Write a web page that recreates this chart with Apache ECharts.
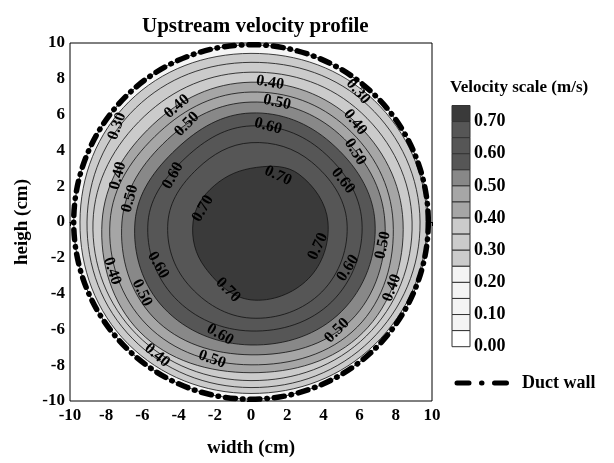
<!DOCTYPE html>
<html>
<head>
<meta charset="utf-8">
<script src="https://cdn.jsdelivr.net/npm/echarts@6/dist/echarts.min.js"></script>
<style>
html,body{margin:0;padding:0;background:#fff;}
#chart{width:614px;height:463px;}
</style>
</head>
<body>
<div id="chart"></div>
<script>
// ---- data ----
const xTicks = [-10, -8, -6, -4, -2, 0, 2, 4, 6, 8, 10];
const yTicks = [-10, -8, -6, -4, -2, 0, 2, 4, 6, 8, 10];
const wallRadius = 9.85;                       // duct wall radius (cm)

const contourLevels = [0.25, 0.30, 0.35, 0.40, 0.45, 0.50, 0.55, 0.60, 0.65, 0.70];
// contour boundary points (cm), going right, up-right, up, up-left, left, down-left, down, down-right
const c025 = [[9.72,0],[6.80,6.80],[0,9.42],[-6.73,6.73],[-9.45,0],[-6.80,-6.80],[0,-9.58],[6.84,-6.84]];
const c030 = [[9.34,0],[6.49,6.49],[0,8.92],[-6.37,6.37],[-9.06,0],[-6.53,-6.53],[0,-9.25],[6.61,-6.61]];
const c035 = [[8.90,0],[6.10,6.10],[0,8.37],[-5.90,5.90],[-8.73,0],[-6.30,-6.30],[0,-8.86],[6.37,-6.37]];
const c040 = [[8.40,0],[5.67,5.67],[0,7.81],[-5.43,5.43],[-8.23,0],[-6.14,-6.14],[0,-8.42],[6.18,-6.18]];
const c045 = [[7.85,0],[5.28,5.28],[0,7.26],[-5.04,5.04],[-7.79,0],[-5.75,-5.75],[0,-7.98],[5.87,-5.87]];
const c050 = [[7.40,0],[4.89,4.89],[0,6.70],[-4.61,4.61],[-7.13,0],[-5.36,-5.36],[0,-7.42],[5.51,-5.51]];
const c055 = [[6.85,0],[4.42,4.42],[0,6.09],[-4.10,4.10],[-6.41,0],[-4.81,-4.81],[0,-6.87],[5.00,-5.00]];
const c060 = [[6.13,0],[3.95,3.95],[0,5.37],[-3.60,3.60],[-5.69,0],[-4.22,-4.22],[0,-6.09],[4.46,-4.46]];
const c065 = [[5.30,0],[3.35,3.35],[0,4.43],[-2.97,2.97],[-4.59,0],[-3.48,-3.48],[0,-5.37],[3.91,-3.91]];
const c070 = [[4.25,0],[2.66,2.66],[0.3,3.05],[-2.03,2.03],[-3.20,0],[-2.54,-2.54],[0,-4.35],[3.17,-3.17]];
const contours = [c025, c030, c035, c040, c045, c050, c055, c060, c065, c070];

// contour labels: [x, y, text, angle in degrees]
const contourLabels = [
  [-4.09, 6.45, '0.40', 40], [-3.54, 5.46, '0.50', 45], [-7.40, 5.35, '0.30', 70],
  [-7.35, 2.58, '0.40', 75], [-6.69, 1.30, '0.50', 75], [-4.31, 2.58, '0.60', 62],
  [-2.65, 0.75, '0.70', 60], [1.05, 7.78, '0.40', -10], [1.44, 6.68, '0.50', -12],
  [0.94, 5.35, '0.60', -15], [1.49, 2.58, '0.70', -25], [5.91, 7.29, '0.30', -50],
  [5.75, 5.57, '0.40', -52], [5.75, 3.91, '0.50', -58], [5.08, 2.30, '0.60', -52],
  [3.70, -1.36, '0.70', 65], [5.36, -2.58, '0.60', 58], [7.29, -1.30, '0.50', 78],
  [7.79, -3.68, '0.40', 70], [4.75, -6.07, '0.50', 45], [-7.68, -2.74, '0.40', -72],
  [-6.02, -3.96, '0.50', -65], [-5.14, -2.41, '0.60', -60], [-1.71, -6.29, '0.60', -30],
  [-2.15, -7.67, '0.50', -20], [-5.19, -7.45, '0.40', -40], [-1.27, -3.80, '0.70', -45]
];

// legend scale (top to bottom) and its labels
const legendBands = [0.70, 0.65, 0.60, 0.55, 0.50, 0.45, 0.40, 0.35, 0.30, 0.25, 0.20, 0.15, 0.10, 0.05, 0.00];
const legendLabels = ['0.70', '0.60', '0.50', '0.40', '0.30', '0.20', '0.10', '0.00'];

// ---- styles ----
const bandColor = function (v) {
  if (v >= 0.695) return '#3a3a3a';
  if (v >= 0.545) return '#565656';
  if (v >= 0.495) return '#888888';
  if (v >= 0.395) return '#a6a6a6';
  if (v >= 0.245) return '#cbcbcb';
  if (v >= 0.045) return '#f4f4f4';
  return '#ffffff';
};
const SERIF = '"Liberation Serif", "Times New Roman", serif';

const chart = echarts.init(document.getElementById('chart'), null, {renderer: 'canvas'});

// legend graphics
const graphics = [];
graphics.push({type: 'text', left: 450, top: 79,
  style: {text: 'Velocity scale (m/s)', font: 'bold 17px ' + SERIF, fill: '#000'}});
const boxTop = 105.5, boxH = 16.08, boxX = 452, boxW = 18;
legendBands.forEach(function (v, i) {
  graphics.push({type: 'rect', shape: {x: boxX, y: boxTop + i * boxH, width: boxW, height: boxH},
    style: {fill: bandColor(v), stroke: '#333', lineWidth: 1}});
});
legendLabels.forEach(function (t, i) {
  graphics.push({type: 'text', x: 474, y: boxTop + (2 * i + 1) * boxH,
    style: {text: t, font: 'bold 18px ' + SERIF, fill: '#000', verticalAlign: 'middle'}});
});
graphics.push({type: 'line', shape: {x1: 457, y1: 383, x2: 508, y2: 383},
  style: {stroke: '#000', lineWidth: 5, lineDash: [12, 12.5, 0.5, 12.5], lineCap: 'round'}});
graphics.push({type: 'text', x: 522, y: 383,
  style: {text: 'Duct wall', font: 'bold 18px ' + SERIF, fill: '#000', verticalAlign: 'middle'}});

const axisCommon = {
  type: 'value', min: -10, max: 10, interval: 2,
  axisLine: {show: true, lineStyle: {color: '#000', width: 1}},
  axisTick: {show: true, length: 4, lineStyle: {color: '#000'}},
  axisLabel: {color: '#000', fontFamily: SERIF, fontWeight: 'bold', fontSize: 17},
  splitLine: {show: false},
  nameLocation: 'middle',
  nameTextStyle: {color: '#000', fontFamily: SERIF, fontWeight: 'bold', fontSize: 19}
};

const option = {
  backgroundColor: '#fff',
  animation: false,
  title: {text: 'Upstream velocity profile', left: 137, top: 11,
    textStyle: {fontFamily: SERIF, fontWeight: 'bold', fontSize: 21, color: '#000'}},
  grid: {left: 70, top: 43, width: 362, height: 361, show: true, borderColor: '#000', borderWidth: 1, backgroundColor: 'transparent'},
  xAxis: Object.assign({}, axisCommon, {name: 'width (cm)', nameGap: 38,
    axisLabel: Object.assign({}, axisCommon.axisLabel, {margin: 6})}),
  yAxis: Object.assign({}, axisCommon, {name: 'heigh (cm)', nameGap: 36,
    axisLabel: Object.assign({}, axisCommon.axisLabel, {margin: 5})}),
  graphic: graphics,
  series: [
    { // duct interior (outside 0.25 contour)
      type: 'custom', coordinateSystem: 'cartesian2d', silent: true, z: 1,
      data: [[0, 0]],
      renderItem: function (params, api) {
        const c = api.coord([0, 0]);
        const s = api.size([wallRadius, wallRadius]);
        return {type: 'circle', shape: {cx: c[0], cy: c[1], r: (s[0] + s[1]) / 2},
          style: {fill: '#f5f5f5', stroke: '#111', lineWidth: 0.8}};
      }
    },
    { // filled contour bands
      type: 'custom', coordinateSystem: 'cartesian2d', silent: true, z: 2,
      data: contourLevels.map(function (lv) { return [0, 0, lv]; }),
      renderItem: function (params, api) {
        const pts = contours[params.dataIndex].map(function (p) { return api.coord(p); });
        return {type: 'polygon', shape: {points: pts, smooth: 0.38},
          style: {fill: bandColor(contourLevels[params.dataIndex]), stroke: '#111', lineWidth: 0.8}};
      }
    },
    { // contour labels
      type: 'custom', coordinateSystem: 'cartesian2d', silent: true, z: 3,
      data: contourLabels.map(function (d) { return [d[0], d[1]]; }),
      renderItem: function (params, api) {
        const d = contourLabels[params.dataIndex];
        const p = api.coord([d[0], d[1]]);
        return {type: 'text', x: p[0], y: p[1], rotation: d[3] * Math.PI / 180,
          style: {text: d[2], font: 'bold 16px ' + SERIF, fill: '#000', align: 'center', verticalAlign: 'middle'}};
      }
    },
    { // duct wall
      type: 'custom', coordinateSystem: 'cartesian2d', silent: true, z: 4,
      data: [[0, 0]],
      renderItem: function (params, api) {
        const c = api.coord([0, 0]);
        const s = api.size([wallRadius, wallRadius]);
        return {type: 'circle', shape: {cx: c[0], cy: c[1], r: (s[0] + s[1]) / 2},
          style: {fill: null, stroke: '#000', lineWidth: 5.5, lineDash: [10, 7, 0.5, 7], lineCap: 'round'}};
      }
    }
  ]
};
chart.setOption(option);
</script>
</body>
</html>
